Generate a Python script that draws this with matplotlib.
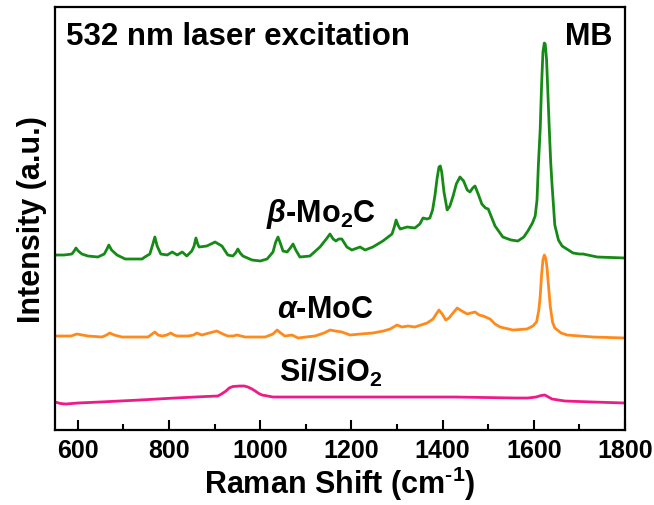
import numpy as np
import matplotlib.pyplot as plt
from matplotlib.ticker import MultipleLocator

plt.rcParams['font.family'] = ['Liberation Sans', 'DejaVu Sans']
plt.rcParams['font.weight'] = 'bold'
plt.rcParams['axes.labelweight'] = 'bold'
plt.rcParams['mathtext.fontset'] = 'custom'
plt.rcParams['mathtext.rm'] = 'Liberation Sans:bold'
plt.rcParams['mathtext.it'] = 'Liberation Sans:bold:italic'
plt.rcParams['mathtext.bf'] = 'Liberation Sans:bold'

# beta-Mo2C (top trace)
beta_shift = [550, 570, 587, 592, 596, 601, 609, 622, 644, 658, 664, 668, 674, 686,
              704, 741, 747, 758, 764, 769, 774, 782, 796, 807, 818, 829, 839, 850,
              855, 859, 863, 866, 883, 901, 916, 929, 940, 946, 951, 956, 962, 982,
              1000, 1015, 1028, 1034, 1039, 1044, 1050, 1059, 1066, 1072, 1078, 1087,
              1109, 1131, 1145, 1153, 1160, 1166, 1172, 1179, 1190, 1201, 1219, 1230,
              1247, 1269, 1289, 1294, 1298, 1302, 1307, 1322, 1339, 1350, 1357, 1366,
              1372, 1378, 1383, 1388, 1392, 1395, 1398, 1403, 1410, 1416, 1423, 1430,
              1438, 1446, 1454, 1460, 1466, 1471, 1478, 1486, 1494, 1500, 1508, 1515,
              1532, 1550, 1565, 1578, 1587, 1597, 1603, 1607, 1610, 1614, 1617, 1620,
              1623, 1625, 1628, 1631, 1634, 1637, 1640, 1646, 1654, 1662, 1686, 1700,
              1708, 1739, 1800]
beta_int = [175, 175, 176, 179, 182, 179, 176, 174, 173, 176, 181, 185, 180, 175,
            171, 171, 173, 176, 185, 193, 184, 176, 175, 178, 175, 178, 174, 179,
            184, 192, 186, 183, 184, 188, 184, 175, 174, 177, 181, 177, 174, 170,
            169, 171, 178, 188, 193, 187, 179, 178, 182, 186, 180, 173,
            174, 183, 191, 196, 191, 189, 191, 191, 183, 180, 183, 180,
            183, 189, 196, 203, 210, 205, 201, 203, 202, 206, 212, 211,
            212, 220, 234, 252, 263, 264, 258, 238, 220, 224, 234, 246,
            253, 249, 240, 238, 242, 244, 236, 226, 222, 221, 212, 204,
            193, 190, 189, 193, 199, 207, 214, 230, 265, 301, 345, 378,
            387, 386, 370, 335, 300, 268, 245, 205, 190, 184, 177, 176,
            176, 173, 172]

# alpha-MoC (middle trace)
alpha_shift = [550, 585, 598, 610, 622, 653, 663, 670, 680, 697, 754, 763, 769, 776,
               785, 795, 804, 811, 818, 842, 854, 861, 872, 888, 905, 918, 929, 940,
               949, 958, 967, 1011, 1028, 1037, 1045, 1054, 1070, 1083, 1100, 1120,
               1140, 1153, 1165, 1179, 1197, 1220, 1247, 1270, 1285, 1300, 1311, 1324,
               1339, 1366, 1379, 1386, 1392, 1399, 1407, 1414, 1421, 1432, 1442, 1454,
               1462, 1471, 1480, 1489, 1504, 1515, 1526, 1554, 1585, 1598, 1606, 1611,
               1614, 1617, 1620, 1623, 1626, 1629, 1632, 1636, 1641, 1646, 1660, 1673,
               1730, 1800]
alpha_int = [94, 94, 96, 95, 94, 93, 95, 97, 95, 93, 93, 96, 98, 95,
             94, 95, 97, 95, 94, 94, 95, 97, 95, 97, 99, 96, 94, 94,
             95, 94, 93, 93, 96, 100, 97, 94, 95, 92, 93, 94,
             97, 100, 99, 98, 95, 96, 97, 99, 101, 105, 103, 104,
             103, 107, 111, 116, 120, 116, 110, 112, 116, 122, 119, 116,
             117, 118, 115, 114, 111, 106, 103, 100, 101, 104, 108, 120,
             134, 155, 170, 175, 172, 162, 145, 124, 108, 102, 97, 95,
             93, 92]

# bare Si/SiO2 substrate (bottom trace)
sub_shift = [550, 562, 574, 600, 649, 736, 813, 880, 907, 915, 925, 932, 940, 955,
             965, 973, 982, 989, 997, 1004, 1016, 1028, 1100, 1269, 1427, 1560,
             1587, 1605, 1616, 1624, 1632, 1640, 1668, 1730, 1800]
sub_int = [28, 26.5, 26, 27, 28, 30, 32, 33.5, 34, 36, 39, 42, 43.5, 44,
           44, 43, 41, 39, 36.5, 35, 34, 33, 33, 33, 33, 32,
           32, 33, 34.5, 35, 33, 31, 29, 28, 27]

fig = plt.figure(figsize=(6.54, 5.06), dpi=100)
ax = fig.add_axes([0.0841, 0.1482, 0.8716, 0.836])

ax.plot(beta_shift, beta_int, color='#168a16', lw=2.0)
ax.plot(alpha_shift, alpha_int, color='#ff8a1c', lw=2.0)
ax.plot(sub_shift, sub_int, color='#ef1a8a', lw=2.0)

ax.set_xlim(550, 1800)
ax.set_ylim(0, 423)
ax.set_yticks([])
ax.xaxis.set_major_locator(MultipleLocator(200))
ax.xaxis.set_minor_locator(MultipleLocator(100))
ax.tick_params(axis='x', which='major', direction='in', length=7, width=1.5,
               labelsize=18, pad=6)
ax.tick_params(axis='x', which='minor', direction='in', length=4, width=1.5)
for sp in ax.spines.values():
    sp.set_linewidth(1.6)

ax.set_xlabel(r'Raman Shift (cm$^{\text{-1}}$)', fontsize=22,
              fontweight='bold', labelpad=1)
ax.set_ylabel('Intensity (a.u.)', fontsize=22, fontweight='bold', labelpad=6)

ax.text(0.019, 0.931, '532 nm laser excitation', transform=ax.transAxes,
        fontsize=22.5, ha='left', va='center')
ax.text(0.977, 0.931, 'MB', transform=ax.transAxes,
        fontsize=22, ha='right', va='center')
ax.text(1133, 217, r'$\beta$-Mo$_{\mathregular{2}}$C', fontsize=22,
        ha='center', va='center')
ax.text(1143, 121, r'$\alpha$-MoC', fontsize=22, ha='center', va='center')
ax.text(1155, 58, r'Si/SiO$_{\mathregular{2}}$', fontsize=22,
        ha='center', va='center')

fig.savefig('out.png', dpi=100)
